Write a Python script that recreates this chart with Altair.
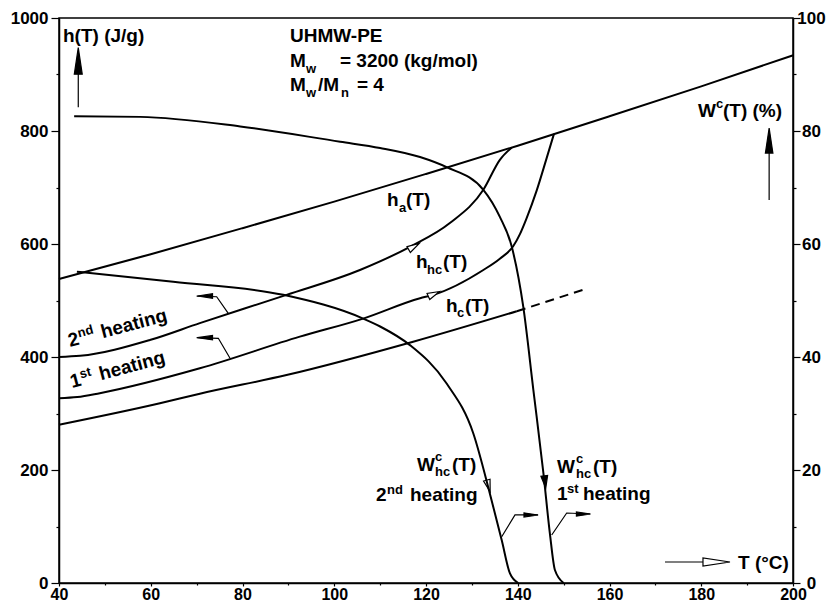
import altair as alt
import pandas as pd

FONT = "Liberation Sans"

# ---------------- data ----------------
# h_a(T): enthalpy of the amorphous phase (J/g)
T_a = [40, 60, 80, 100, 120, 140, 160, 180, 200]
h_a = [538, 582, 628, 675, 724, 774, 826, 879, 934]

# h_c(T): enthalpy of the crystal (solid part + dashed extrapolation)
T_c = [40, 62, 70.7, 89.6, 117.2, 139.8]
h_c = [280, 318, 335, 368, 427, 481]
T_c_ext = [139.8, 154.3]
h_c_ext = [481, 519]

# h_hc(T): 1st heating
T_hc1 = [40, 44, 48.9, 70.7, 92.5, 106.3, 118.7, 121.6, 132.5, 136.1, 139.0, 140.5, 141.9, 144.1, 146.3, 147.9]
h_hc1 = [327, 329, 336, 380, 436, 468, 504, 510, 554, 574, 596, 618, 645, 694, 752, 795]

# h_hc(T): 2nd heating
T_hc2 = [40, 44.6, 59.8, 70.7, 89.6, 105.6, 116.5, 125.2, 132.5, 136.1, 138.7]
h_hc2 = [400, 402, 430, 460, 510, 554, 595, 637, 696, 749, 771]

# W^c_hc(T) (%): 1st heating
T_w1 = [43.3, 57.7, 79.5, 101.3, 110.0, 118.7, 124.5, 132.5, 136.1, 138.7, 141.2, 143.4, 145.6, 147.0, 148.1, 150.0]
W_w1 = [82.6, 82.5, 80.8, 78.1, 77.0, 75.4, 73.6, 69.6, 64.8, 59.5, 48.9, 34.2, 19.4, 8.8, 2.3, 0]

# W^c_hc(T) (%): 2nd heating
T_w2 = [43.9, 64.9, 88.9, 106.3, 110, 116.5, 124.5, 130.3, 133.9, 136.5, 138.3, 140.1]
W_w2 = [55.1, 53.3, 51.0, 46.8, 45.4, 42.1, 35.3, 26.5, 15.9, 7.6, 1.7, 0]

# axis ticks
x_ticks = list(range(40, 201, 10))
h_ticks = list(range(0, 1001, 100))
w_ticks = list(range(0, 101, 10))

# ---------------- encodings ----------------
X = alt.X("T:Q", scale=alt.Scale(domain=[40, 200], nice=False, zero=False),
          axis=alt.Axis(values=x_ticks, format="d", title=None,
                        labelExpr="datum.value % 20 === 0 ? datum.label : ''",
                        tickSize={"condition": {"test": "datum.value % 20 === 0", "value": 3}, "value": 2},
                        labelFontSize=16, labelPadding=0, labelFlush=False, labelOverlap=False))
YH = alt.Y("v:Q", scale=alt.Scale(domain=[0, 1000], nice=False),
           axis=alt.Axis(values=h_ticks, format="d", title=None, orient="left",
                         labelExpr="datum.value % 200 === 0 ? datum.label : ''",
                         tickSize={"condition": {"test": "datum.value % 200 === 0", "value": 8}, "value": 3},
                         labelPadding=3, labelFlush=False, labelOverlap=False))
YW = alt.Y("v:Q", scale=alt.Scale(domain=[0, 100], nice=False),
           axis=alt.Axis(values=w_ticks, format="d", title=None, orient="right",
                         labelExpr="datum.value % 20 === 0 ? datum.label : ''",
                         tickSize={"condition": {"test": "datum.value % 20 === 0", "value": 7}, "value": 3},
                         labelAlign="center", labelPadding=11, labelFlush=False, labelOverlap=False))


def curve(T, v, y, dash=None, width=2):
    kw = dict(color="black", strokeWidth=width, interpolate="monotone")
    if dash:
        kw["strokeDash"] = dash
    return alt.Chart(pd.DataFrame({"T": T, "v": v})).mark_line(**kw).encode(x=X, y=y)


def poly(T, v, width=1.2):
    df = pd.DataFrame({"T": T, "v": v, "o": list(range(len(T)))})
    return alt.Chart(df).mark_line(color="black", strokeWidth=width).encode(
        x=X, y=YH, order="o:Q")


def label(T, v, text, size=19, angle=0, dx=0, dy=0):
    kw = dict(text=text, font=FONT, fontSize=size, fontWeight="bold", color="black",
              align="left", baseline="alphabetic", dx=dx, dy=dy)
    if angle:
        kw["angle"] = angle
    return alt.Chart(pd.DataFrame({"T": [T], "v": [v]})).mark_text(**kw).encode(x=X, y=YH)


h_layers = [
    curve(T_a, h_a, YH),
    curve(T_c, h_c, YH),
    curve(T_c_ext, h_c_ext, YH, dash=[9, 6]),
    curve(T_hc1, h_hc1, YH),
    curve(T_hc2, h_hc2, YH),
]

# arrow shafts
shafts = [
    poly([44.2, 44.2], [842, 915]),                    # h(T) up arrow
    poly([194.8, 194.8], [678, 775]),                  # W(T) up arrow
    poly([76.9, 74.37, 70.0], [477.3, 506.7, 507.9]),  # 2nd heating pointer
    poly([77.28, 74.73, 70.0], [397.7, 433.1, 434.2]), # 1st heating pointer
    poly([136.5, 139.4, 144.4], [81.9, 120.4, 120.4]), # W 2nd heating pointer
    poly([147.4, 150.67, 155.75], [85.0, 123.9, 122.1]),  # W 1st heating pointer
    poly([172.1, 184.0], [37.2, 37.2]),                # T axis arrow
]

# arrow heads
SLIM = "M1,0L-1,-0.3L-1,0.3Z"
WIDE = "M1,0L-1,-0.55L-1,0.55Z"
heads = pd.DataFrame({
    "T":     [44.2, 194.8, 71.83, 71.83, 142.9, 154.33, 183.32, 117.38, 121.74, 133.62, 145.94],
    "v":     [924, 783, 508, 434.2, 120.4, 122.1, 37.2, 595.6, 511.5, 171.7, 178.8],
    "angle": [270, 270, 180, 180, 0, 0, 0, 330, 336, 74, 83],
    "size":  [700, 625, 225, 225, 200, 200, 729, 150, 150, 150, 150],
    "fill":  ["black", "black", "black", "black", "black", "black", "white",
              "white", "white", "white", "black"],
    "shape": [SLIM, SLIM, SLIM, SLIM, SLIM, SLIM, SLIM, WIDE, WIDE, WIDE, WIDE],
})
head_layer = alt.Chart(heads).mark_point(filled=True, stroke="black", strokeWidth=1.2, opacity=1).encode(
    x=X, y=YH,
    shape=alt.Shape("shape:N", scale=None),
    angle=alt.Angle("angle:Q", scale=None),
    size=alt.Size("size:Q", scale=None),
    fill=alt.Fill("fill:N", scale=None),
)

texts = [
    label(40.87, 957.5, "h(T) (J/g)"),
    label(90.35, 957.5, "UHMW-PE"),
    label(90.35, 913.3, "M"),
    label(90.35, 913.3, "w", size=13, dx=16, dy=6),
    label(90.35, 913.3, "= 3200 (kg/mol)", dx=50),
    label(90.35, 870.8, "M"),
    label(90.35, 870.8, "w", size=13, dx=16, dy=6),
    label(90.35, 870.8, "/M", dx=28),
    label(90.35, 870.8, "n", size=13, dx=51, dy=6),
    label(90.35, 870.8, "= 4", dx=67),
    # W^c(T) (%)
    label(179.29, 824.8, "W"),
    label(179.29, 824.8, "c", size=13, dx=18, dy=-9),
    label(179.29, 824.8, "(T) (%)", dx=25),
    # h_a(T)
    label(111.5, 667.3, "h"),
    label(111.5, 667.3, "a", size=13, dx=12, dy=6),
    label(111.5, 667.3, "(T)", dx=19),
    # h_hc(T)
    label(117.82, 557.5, "h"),
    label(117.82, 557.5, "hc", size=13, dx=11, dy=6),
    label(117.82, 557.5, "(T)", dx=27),
    # h_c(T)
    label(124.36, 479.6, "h"),
    label(124.36, 479.6, "c", size=13, dx=11, dy=5),
    label(124.36, 479.6, "(T)", dx=19),
    # rotated heating labels
    label(42.40, 417.7, "2", angle=345),
    label(42.40, 417.7, "nd", size=13, angle=345, dx=11, dy=-7),
    label(42.40, 417.7, "heating", angle=345, dx=34),
    label(42.83, 345.1, "1", angle=345),
    label(42.83, 345.1, "st", size=13, angle=345, dx=11, dy=-7),
    label(42.83, 345.1, "heating", angle=345, dx=30),
    # W^c_hc(T) 2nd heating
    label(118.04, 198.2, "W"),
    label(118.04, 198.2, "c", size=13, dx=18, dy=-10),
    label(118.04, 198.2, "hc", size=13, dx=18, dy=5),
    label(118.04, 198.2, "(T)", dx=35),
    label(109.10, 145.1, "2"),
    label(109.10, 145.1, "nd", size=13, dx=11, dy=-7),
    label(109.10, 145.1, "heating", dx=34),
    # W^c_hc(T) 1st heating
    label(148.56, 194.7, "W"),
    label(148.56, 194.7, "c", size=13, dx=19, dy=-10),
    label(148.56, 194.7, "hc", size=13, dx=19, dy=5),
    label(148.56, 194.7, "(T)", dx=36),
    label(148.56, 146.9, "1"),
    label(148.56, 146.9, "st", size=13, dx=10, dy=-7),
    label(148.56, 146.9, "heating", dx=26),
    # T axis label
    label(188.01, 24.8, "T (°C)"),
]

inner = alt.layer(*h_layers, *shafts, head_layer, *texts)
w_layer = alt.layer(curve(T_w1, W_w1, YW), curve(T_w2, W_w2, YW))

chart = (
    alt.layer(inner, w_layer)
    .resolve_scale(y="independent")
    .properties(width=734, height=565,
                padding={"left": 51, "top": 10, "right": 34, "bottom": 20},
                autosize=alt.AutoSizeParams(type="none"),
                background="white")
    .configure_view(stroke="black", strokeWidth=1.5)
    .configure_axis(grid=False, labelFont=FONT, labelFontSize=17, labelFontWeight="bold",
                    labelColor="black", domainColor="black", domainWidth=1.5,
                    tickColor="black", tickWidth=1.2)
)

chart.save("out.html", embed_options={"renderer": "svg", "actions": False})
